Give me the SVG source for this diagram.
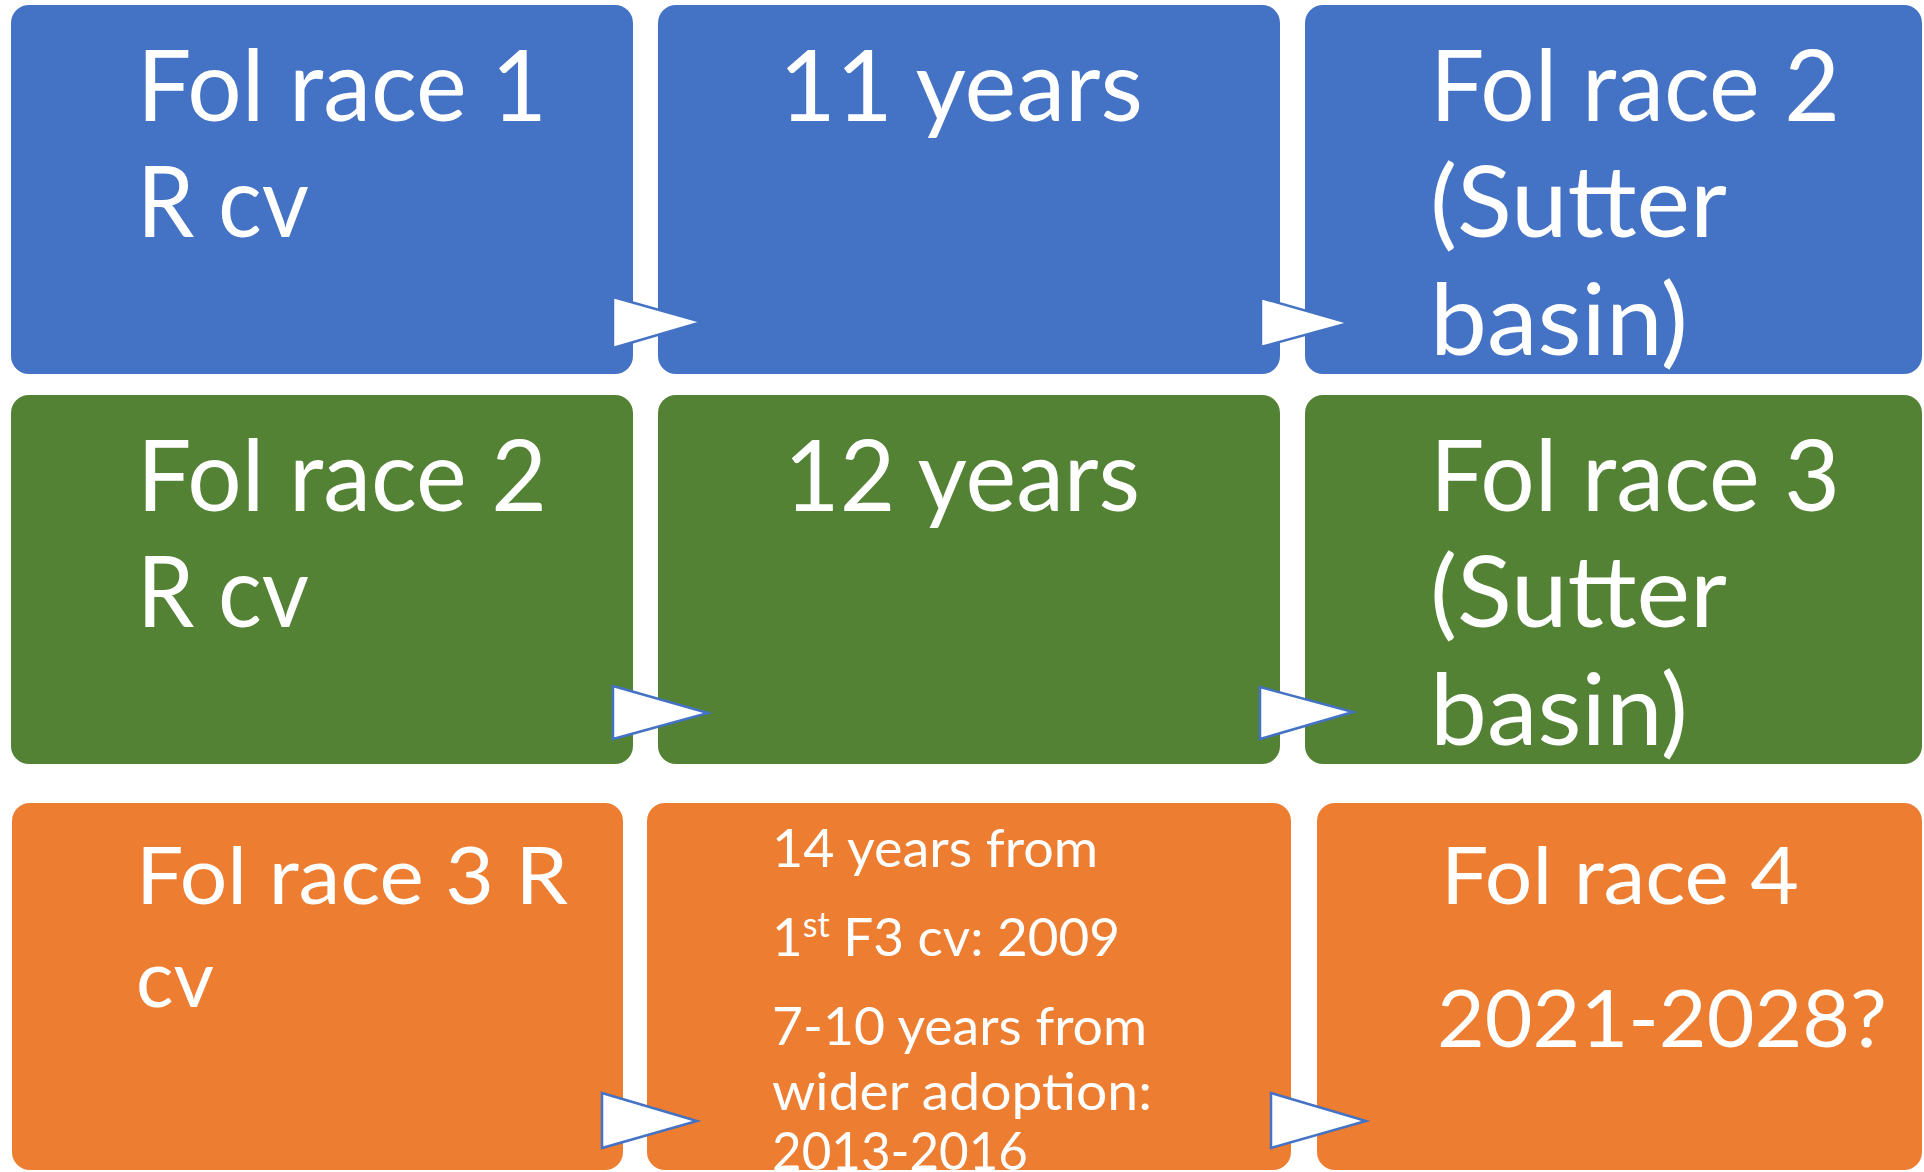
<svg xmlns="http://www.w3.org/2000/svg" width="1924" height="1172" viewBox="0 0 1924 1172">
<style>
.blue{fill:#4472C4}
.green{fill:#548235}
.orange{fill:#ED7D31}
text{font-family:Lato,"Open Sans","Liberation Sans",sans-serif;fill:#FFFFFF}
.big{font-size:99px}
.mid{font-size:80px}
.small{font-size:53px}
.arr{fill:#FFFFFF;stroke:#4472C4;stroke-width:2.5;stroke-linejoin:miter}
</style>
<rect width="1924" height="1172" fill="#FFFFFF"/>
<g id="n1"><rect class="blue" x="11" y="5" width="622" height="369" rx="18"/>
<text class="big" x="137" y="121" textLength="410" lengthAdjust="spacingAndGlyphs">Fol race 1</text>
<text class="big" x="137" y="237" textLength="172" lengthAdjust="spacingAndGlyphs">R cv</text></g>
<g id="n2"><rect class="blue" x="658" y="5" width="622" height="369" rx="18"/>
<text class="big" x="779" y="121" textLength="364" lengthAdjust="spacingAndGlyphs">11 years</text></g>
<g id="n3"><rect class="blue" x="1305" y="5" width="617" height="369" rx="18"/>
<text class="big" x="1430" y="121" textLength="410" lengthAdjust="spacingAndGlyphs">Fol race 2</text>
<text class="big" x="1430" y="237" textLength="297" lengthAdjust="spacingAndGlyphs">(Sutter</text>
<text class="big" x="1430" y="355" textLength="258" lengthAdjust="spacingAndGlyphs">basin)</text></g>
<g id="n4"><rect class="green" x="11" y="395" width="622" height="369" rx="18"/>
<text class="big" x="137" y="511" textLength="410" lengthAdjust="spacingAndGlyphs">Fol race 2</text>
<text class="big" x="137" y="627" textLength="172" lengthAdjust="spacingAndGlyphs">R cv</text></g>
<g id="n5"><rect class="green" x="658" y="395" width="622" height="369" rx="18"/>
<text class="big" x="784" y="511" textLength="356" lengthAdjust="spacingAndGlyphs">12 years</text></g>
<g id="n6"><rect class="green" x="1305" y="395" width="617" height="369" rx="18"/>
<text class="big" x="1430" y="511" textLength="410" lengthAdjust="spacingAndGlyphs">Fol race 3</text>
<text class="big" x="1430" y="627" textLength="297" lengthAdjust="spacingAndGlyphs">(Sutter</text>
<text class="big" x="1430" y="745" textLength="258" lengthAdjust="spacingAndGlyphs">basin)</text></g>
<g id="n7"><rect class="orange" x="12" y="803" width="611" height="367" rx="18"/>
<text class="mid" x="136" y="904" textLength="432" lengthAdjust="spacingAndGlyphs">Fol race 3 R</text>
<text class="mid" x="136" y="1007" textLength="78" lengthAdjust="spacingAndGlyphs">cv</text></g>
<g id="n8"><rect class="orange" x="647" y="803" width="644" height="367" rx="18"/>
<text class="small" x="772" y="867" textLength="326" lengthAdjust="spacingAndGlyphs">14 years from</text>
<text class="small" x="772" y="956">1<tspan font-size="34" baseline-shift="19">st</tspan> F3 cv: 2009</text>
<text class="small" x="772" y="1045" textLength="375" lengthAdjust="spacingAndGlyphs">7-10 years from</text>
<text class="small" x="772" y="1110" textLength="380" lengthAdjust="spacingAndGlyphs">wider adoption:</text>
<text class="small" x="772" y="1170" textLength="256" lengthAdjust="spacingAndGlyphs">2013-2016</text></g>
<g id="n9"><rect class="orange" x="1317" y="803" width="605" height="367" rx="18"/>
<text class="mid" x="1441" y="904" textLength="358" lengthAdjust="spacingAndGlyphs">Fol race 4</text>
<text class="mid" x="1437" y="1047" font-size="85" textLength="450" lengthAdjust="spacingAndGlyphs">2021-2028?</text></g>
<g id="connectors">
<polygon class="arr" points="613,297 702,322 613,348"/>
<polygon class="arr" points="1261,298 1349,323 1261,347"/>
<polygon class="arr" points="613,686 708,713 613,739"/>
<polygon class="arr" points="1260,687 1353,712 1260,739"/>
<polygon class="arr" points="602,1093 697,1121 602,1148"/>
<polygon class="arr" points="1271,1093 1366,1121 1271,1148"/>
</g>
</svg>
